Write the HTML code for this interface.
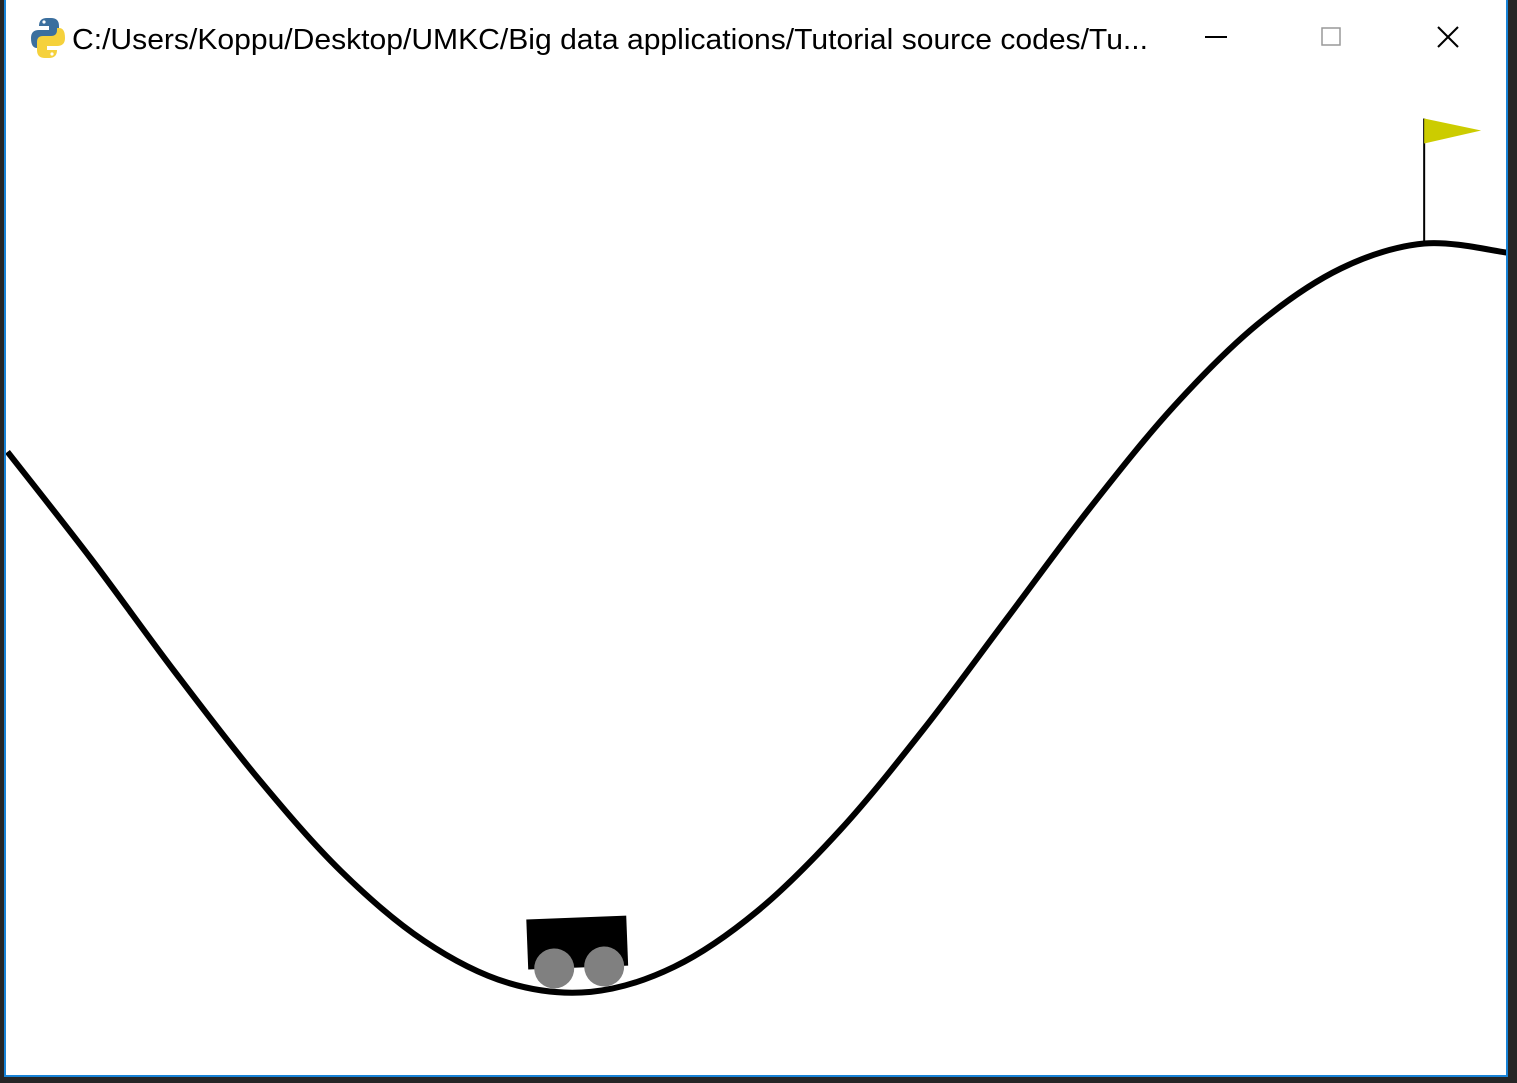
<!DOCTYPE html>
<html><head><meta charset="utf-8"><style>
html,body{margin:0;padding:0;width:1517px;height:1083px;overflow:hidden;background:#262626;}
#win{position:absolute;left:4px;top:0;width:1500px;height:1075px;border:2px solid #1883d7;border-top:none;background:#fff;}
</style></head><body>
<div id="win">
<svg width="1500" height="1075" style="position:absolute;left:0;top:0">
 <g>
  <path d="M25 38 q0-8 8-8 h10 v-4 h-10 q0-8 8-8 h4 q8 0 8 8 v8 q0 6-6 6 h-8 q-6 0-6 6 v2 h-2 q-6 0-6-10z" fill="#3b6f9e"/>
  <path d="M59 38 q0 8-8 8 h-10 v4 h10 q0 8-8 8 h-4 q-8 0-8-8 v-8 q0-6 6-6 h8 q6 0 6-6 v-2 h2 q6 0 6 10z" fill="#f5d13c"/>
  <circle cx="38" cy="22" r="1.6" fill="#fff"/><circle cx="46" cy="54" r="1.6" fill="#fff"/>
 </g>
 <text x="66" y="49" font-family="Liberation Sans, sans-serif" font-size="29" textLength="1076" lengthAdjust="spacingAndGlyphs">C:/Users/Koppu/Desktop/UMKC/Big data applications/Tutorial source codes/Tu...</text>
 <line x1="1199" y1="37" x2="1221" y2="37" stroke="#000" stroke-width="2"/>
 <rect x="1316" y="28" width="18" height="17" fill="none" stroke="#999" stroke-width="1.5"/>
 <g stroke="#000" stroke-width="2"><line x1="1432" y1="27" x2="1452" y2="47"/><line x1="1452" y1="27" x2="1432" y2="47"/></g>
 <g id="scene"></g>
</svg>
</div>
<script>
const positions=[-1.2,-1.1,-1.0,-0.9,-0.8,-0.7,-0.6,-0.5,-0.4,-0.3,-0.2,-0.1,0,0.1,0.2,0.3,0.4,0.5,0.6];
const heights=[0.749,0.621,0.486,0.358,0.246,0.162,0.112,0.101,0.131,0.198,0.296,0.417,0.55,0.683,0.804,0.902,0.969,0.999,0.988];
const carPosition=[-0.514];
const goalPosition=[0.5];
const goalHeight=[0.999];
const S=1500/1.8, BOT=1076;
const X=v=>1.5+(v+1.2)*S, Y=h=>BOT-h*S;
const ns='http://www.w3.org/2000/svg', sc=document.getElementById('scene');
function mk(t,a){const e=document.createElementNS(ns,t);for(const k in a)e.setAttribute(k,a[k]);sc.appendChild(e);return e;}
const P=positions.map((p,i)=>[X(p),Y(heights[i])]);
let d='M'+P[0][0]+' '+P[0][1];
for(let i=0;i<P.length-1;i++){const p0=P[Math.max(0,i-1)],p1=P[i],p2=P[i+1],p3=P[Math.min(P.length-1,i+2)];
d+=` C${p1[0]+(p2[0]-p0[0])/6} ${p1[1]+(p2[1]-p0[1])/6} ${p2[0]-(p3[0]-p1[0])/6} ${p2[1]-(p3[1]-p1[1])/6} ${p2[0]} ${p2[1]}`;}
const track=mk('path',{d:d,fill:'none',stroke:'#000','stroke-width':6});


const cp=carPosition[0];
const ch=0.45*Math.sin(3*cp)+0.55;
const cx=X(cp), cy=Y(ch);
const ang=-Math.atan(Math.cos(3*cp)*1.35)*180/Math.PI;
const car=mk('g',{transform:`translate(${cx},${cy}) rotate(${ang})`});


const body=document.createElementNS(ns,'rect');
body.setAttribute('x',-50);body.setAttribute('y',-75);body.setAttribute('width',100);body.setAttribute('height',50);body.setAttribute('fill','#000');


car.appendChild(body);
[-24,26].forEach(o=>{const w=document.createElementNS(ns,'circle');
w.setAttribute('cx',o);w.setAttribute('cy',-25);w.setAttribute('r',20);w.setAttribute('fill','#808080');


car.appendChild(w);});
const fx=X(goalPosition[0]), fy=Y(goalHeight[0]);
const pole=mk('line',{x1:fx,y1:fy,x2:fx,y2:fy-125,stroke:'#000','stroke-width':2});


const flag=mk('polygon',{points:`${fx},${fy-125} ${fx},${fy-100} ${fx+57},${fy-113}`,fill:'#cccc00'});


</script>
</body></html>
